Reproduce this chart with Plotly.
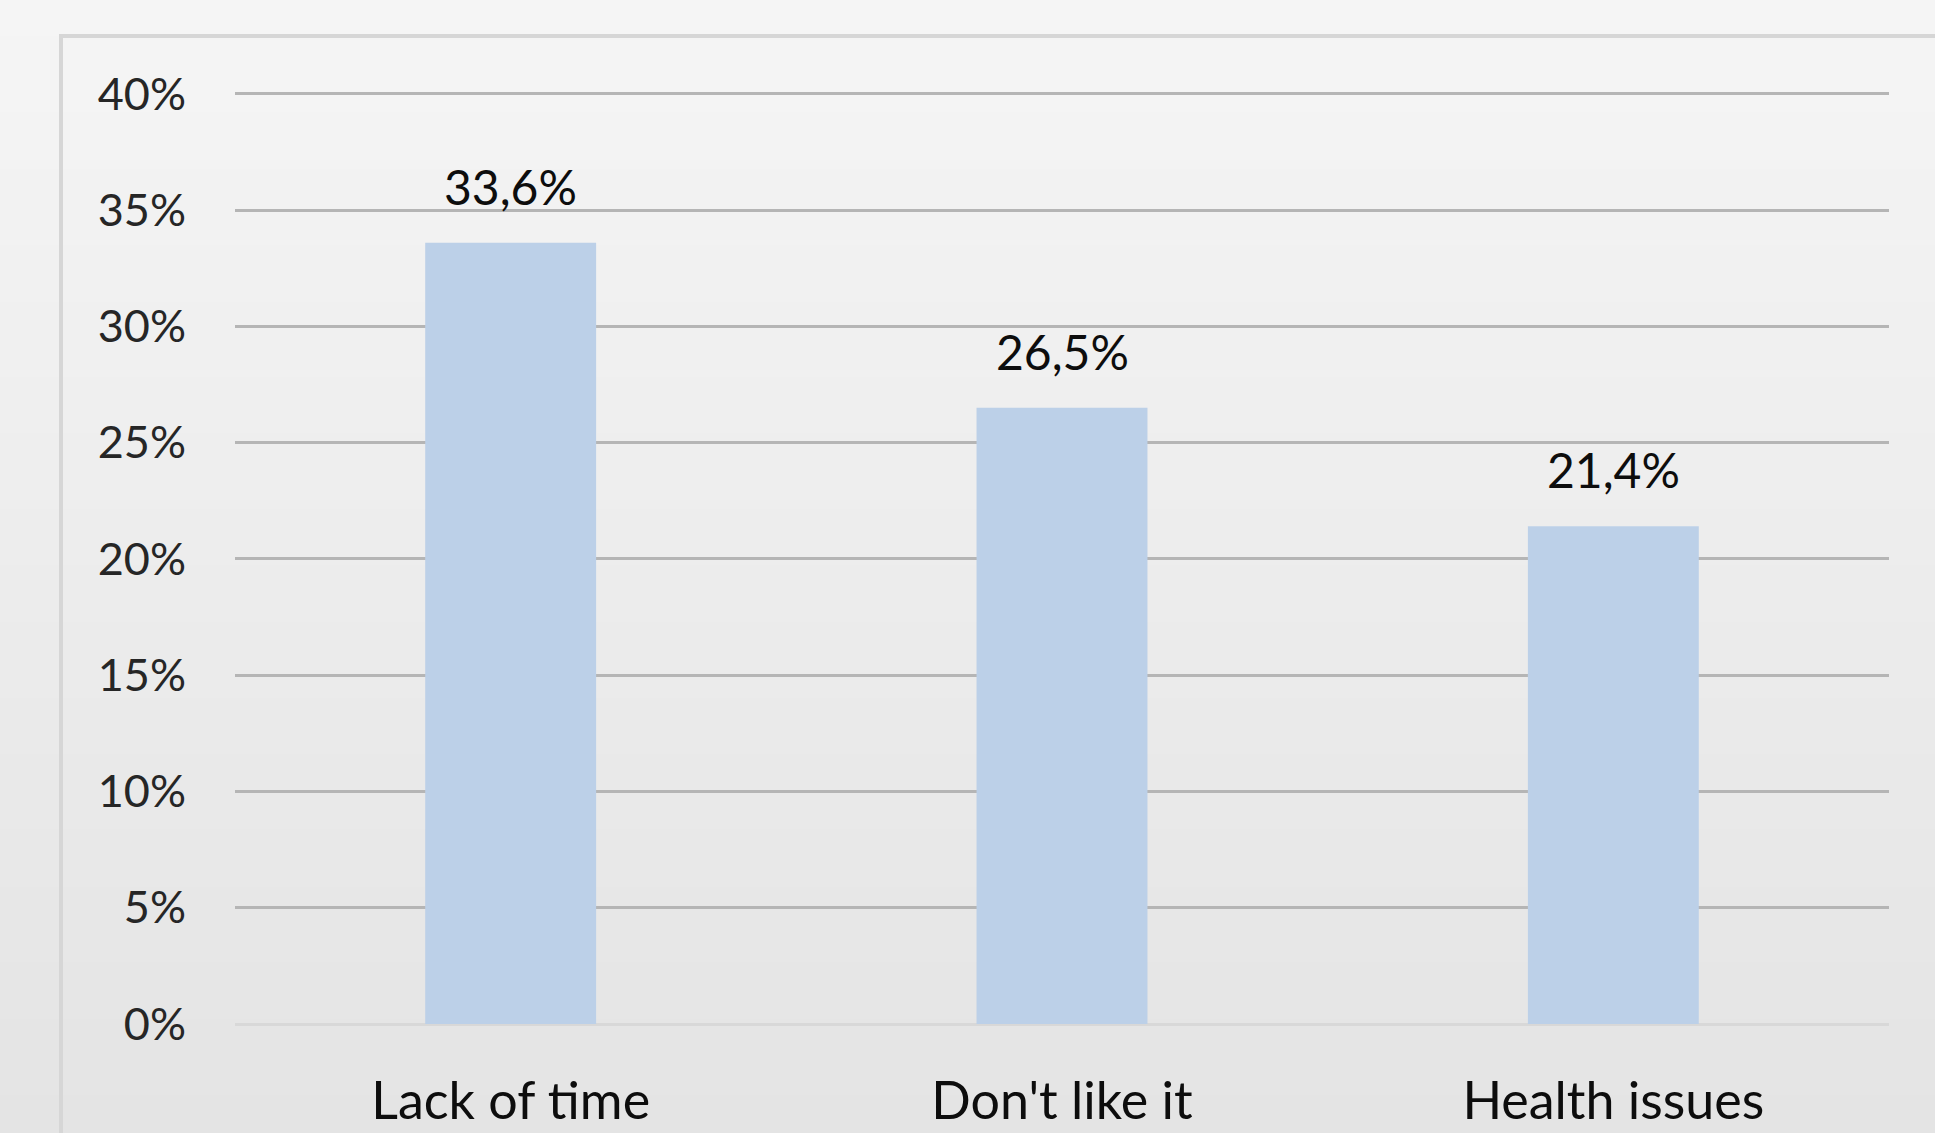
import plotly.graph_objects as go

categories = ["Lack of time", "Don't like it", "Health issues"]
values = [0.336, 0.265, 0.214]
y_ticks = [0, 0.05, 0.10, 0.15, 0.20, 0.25, 0.30, 0.35, 0.40]

FIG_W, FIG_H = 1935, 1133
Y_TOP_PX, Y_ZERO_PX = 94, 1024   # pixel rows of 40% and 0%
YMAX = 0.4025
PPU = (Y_ZERO_PX - Y_TOP_PX) / 0.40
L, R = 235, 46
T = round(Y_TOP_PX - (YMAX - 0.40) * PPU)
B = FIG_H - Y_ZERO_PX
W = FIG_W - L - R
H = FIG_H - T - B

def px_x(px):
    return (px - L) / W

def px_y(py):
    return 1 - (py - T) / H

FONT = "Lato"

fig = go.Figure()
fig.add_trace(go.Bar(
    x=categories, y=values,
    marker=dict(color="#bcd0e8", line=dict(width=0)),
    hoverinfo="skip",
))

# data labels
for c, v in zip(categories, values):
    fig.add_annotation(
        x=c, y=v, xref="x", yref="y",
        text=f"{v*100:.1f}%".replace(".", ","),
        showarrow=False, yanchor="bottom", yshift=26,
        font=dict(family=FONT, size=48, color="#0d0d0d"),
    )

shapes = []
# vertical gradient background
n = 60
top_c = (245, 245, 245)
bot_c = (228, 228, 228)
for i in range(n):
    f = i / (n - 1)
    col = tuple(round(top_c[k] + (bot_c[k] - top_c[k]) * f) for k in range(3))
    y0 = FIG_H * i / n - 1
    y1 = FIG_H * (i + 1) / n + 1
    shapes.append(dict(
        type="rect", xref="paper", yref="paper",
        x0=px_x(-5), x1=px_x(FIG_W + 5), y0=px_y(y1), y1=px_y(y0),
        fillcolor="rgb(%d,%d,%d)" % col, line=dict(width=0), layer="below",
    ))
# outer border (top and left)
shapes.append(dict(type="line", xref="paper", yref="paper",
                   x0=px_x(60), x1=px_x(FIG_W + 10), y0=px_y(36), y1=px_y(36),
                   line=dict(color="#d6d6d6", width=4), layer="below"))
shapes.append(dict(type="line", xref="paper", yref="paper",
                   x0=px_x(61), x1=px_x(61), y0=px_y(34), y1=px_y(FIG_H + 10),
                   line=dict(color="#d6d6d6", width=4), layer="below"))

fig.update_layout(
    width=FIG_W, height=FIG_H,
    margin=dict(l=L, r=R, t=T, b=B, autoexpand=False),
    paper_bgcolor="#eeeeee",
    plot_bgcolor="rgba(0,0,0,0)",
    separators=", ",
    bargap=0.69,
    showlegend=False,
    shapes=shapes,
    xaxis=dict(
        automargin=False,
        showgrid=False, zeroline=False, showline=False,
        ticks="", ticklabelstandoff=42,
        tickfont=dict(family=FONT, size=52, color="#0d0d0d"),
    ),
    yaxis=dict(
        automargin=False,
        range=[0, YMAX], tickvals=y_ticks, tickformat=".0%",
        showgrid=True, gridcolor="#b5b5b5", gridwidth=2.5,
        zeroline=True, zerolinecolor="#d8d8d8", zerolinewidth=2.5,
        showline=False, ticks="", ticklabelstandoff=48,
        tickfont=dict(family=FONT, size=45, color="#262626"),
    ),
)

fig.write_html("out.html")
